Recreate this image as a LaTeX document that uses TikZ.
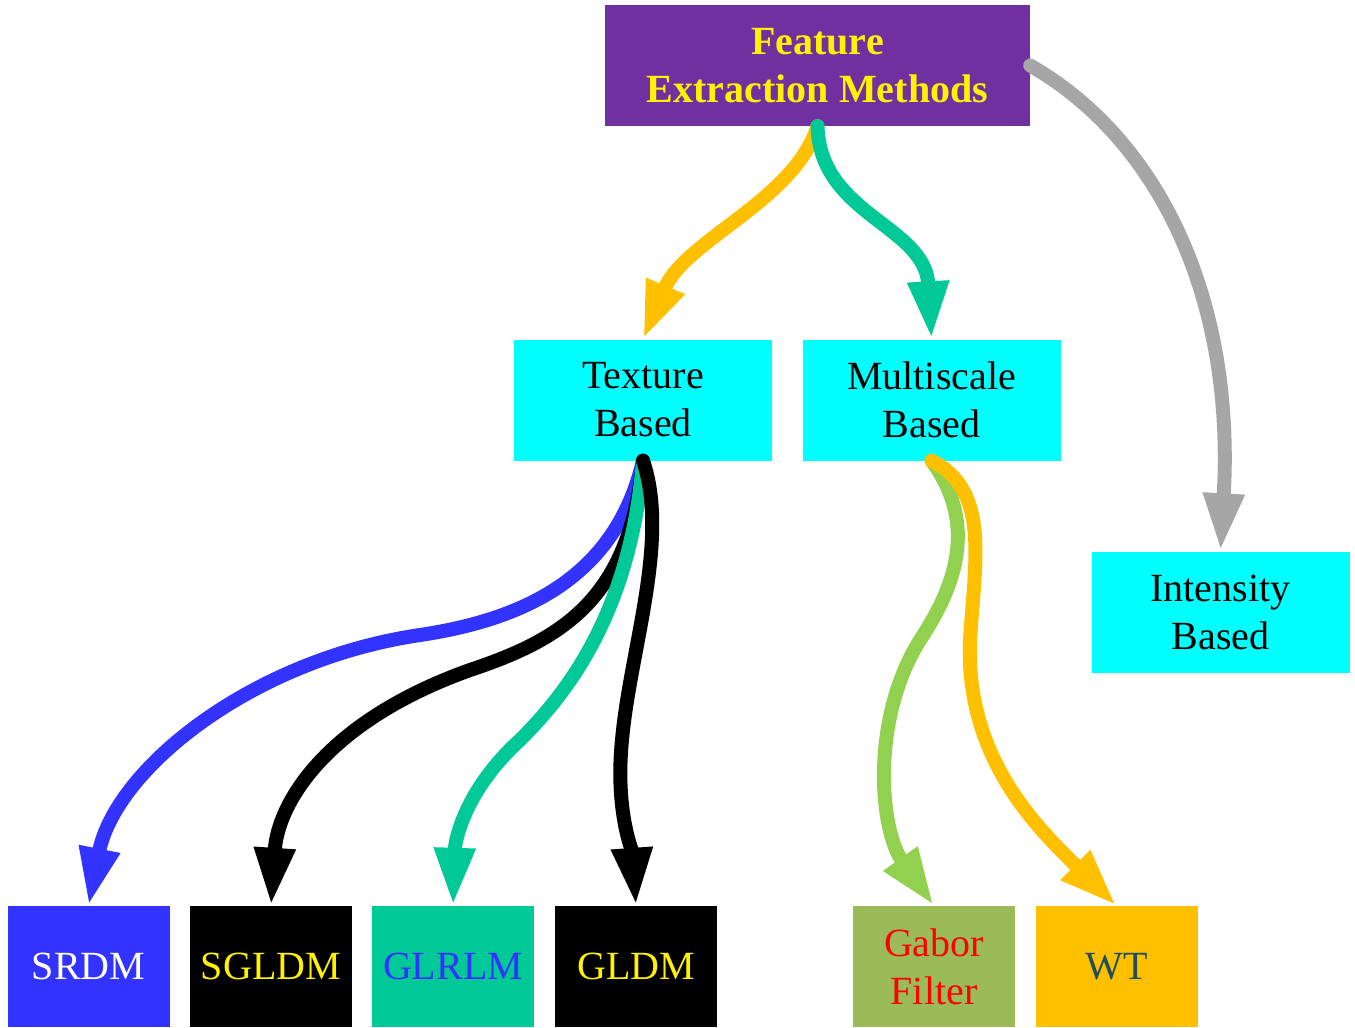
\documentclass[tikz,border=0pt]{standalone}
\usepackage{fontspec}
\setmainfont{Liberation Serif}
\usetikzlibrary{arrows.meta}
\definecolor{fxpurple}{HTML}{7030A0}
\definecolor{fxcyan}{HTML}{00FFFF}
\definecolor{fxblue}{HTML}{3333FF}
\definecolor{fxteal}{HTML}{00C896}
\definecolor{fxolive}{HTML}{9BBB59}
\definecolor{fxorange}{HTML}{FFC000}
\definecolor{fxlime}{HTML}{92D050}
\definecolor{fxgray}{HTML}{A6A6A6}
\definecolor{fxslate}{HTML}{1F4E5A}

\begin{document}
\begin{tikzpicture}
[x=1pt,y=-1pt,
every node/.style={align=center,inner sep=0pt,font=\fontsize{40}{48}\selectfont},
box/.style={minimum width=162pt,minimum height=121pt},
wide/.style={minimum width=258pt,minimum height=121pt,fill=fxcyan},
link/.style={line width=14pt,line cap=round,-{Triangle[width=38pt,length=58pt]}},
]
\useasboundingbox (0,0) rectangle (1355,1028);

\node[minimum width=425pt,minimum height=121pt,fill=fxpurple,text=yellow,
  font=\fontsize{40}{48}\selectfont\bfseries] (fem) at (817.5,65.5) {Feature\\Extraction Methods};
\node[wide] (texture) at (643,400) {Texture\\Based};
\node[wide] (multi) at (931.5,400) {Multiscale\\Based};
\node[wide] (intensity) at (1220.5,612) {Intensity\\Based};

\node[box,fill=fxblue,text=white] (srdm) at (88.5,966.5) {SRDM};
\node[box,fill=black,text=yellow] (sgldm) at (271,966.5) {SGLDM};
\node[box,fill=fxteal,text=fxblue] (glrlm) at (453,966.5) {GLRLM};
\node[box,fill=black,text=yellow] (gldm) at (636,966.5) {GLDM};
\node[box,fill=fxolive,text=red] (gabor) at (934,966.5) {Gabor\\Filter};
\node[box,fill=fxorange,text=fxslate] (wt) at (1116.5,966.5) {WT};

% first level
\draw[link,fxorange] (fem.south) .. controls (795,200) and (685,240) .. (texture.north);
\draw[link,fxteal] (fem.south) .. controls (820,215) and (925,225) .. (multi.north);
\draw[link,fxgray] (fem.east) .. controls (1160,140) and (1235,300) .. (intensity.north);

% texture based
\draw[link,fxblue] (texture.south) .. controls (615,580) and (520,620) .. (420,635)
  .. controls (250,660) and (115,770) .. (srdm.north);
\draw[link,black] (texture.south) .. controls (630,600) and (560,640) .. (470,670)
  .. controls (330,720) and (278,800) .. (sgldm.north);
\draw[link,fxteal] (texture.south) .. controls (630,620) and (560,700) .. (520,740)
  .. controls (465,790) and (455,840) .. (glrlm.north);
\draw[link,black] (texture.south) .. controls (670,540) and (630,650) .. (622,740)
  .. controls (615,810) and (632,850) .. (gldm.north);

% multiscale based
\draw[link,fxlime] (multi.south) .. controls (975,520) and (960,580) .. (920,640)
  .. controls (870,720) and (880,830) .. (gabor.north);
\draw[link,fxorange] (multi.south) .. controls (990,490) and (975,560) .. (970,640)
  .. controls (965,760) and (1040,830) .. (wt.north);
\end{tikzpicture}
\end{document}
